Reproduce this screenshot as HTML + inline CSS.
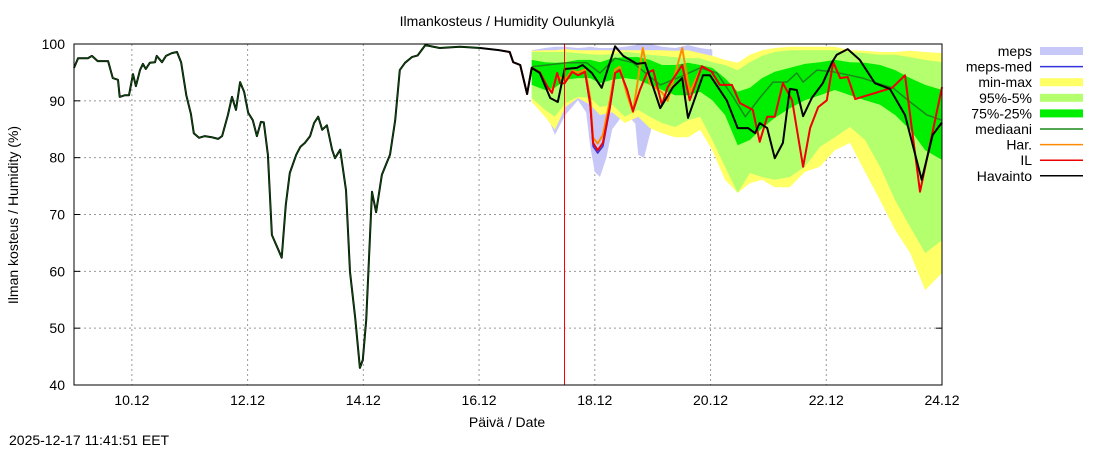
<!DOCTYPE html>
<html><head><meta charset="utf-8">
<style>
body{margin:0;background:#fff;width:1100px;height:450px;overflow:hidden;font-family:"Liberation Sans",sans-serif;}
svg text{font-family:"Liberation Sans",sans-serif;font-size:14px;fill:#000;}
</style></head>
<body>
<svg id="chart" width="1100" height="450" xmlns="http://www.w3.org/2000/svg">
<text x="507" y="26" text-anchor="middle">Ilmankosteus / Humidity  Oulunkylä</text>
<text x="507" y="427" text-anchor="middle">Päivä / Date</text>
<text transform="translate(18,215) rotate(-90)" text-anchor="middle">Ilman kosteus / Humidity (%)</text>
<text x="9" y="445">2025-12-17 11:41:51 EET</text>
<g id="plot"></g>
<g id="legend"></g>
</svg>
<script>
const obsT=[9.00,9.07,9.24,9.31,9.41,9.59,9.67,9.76,9.79,9.88,9.95,10.02,10.07,10.14,10.19,10.24,10.31,10.40,10.43,10.52,10.59,10.69,10.78,10.85,10.94,11.02,11.07,11.16,11.26,11.38,11.49,11.56,11.66,11.73,11.80,11.87,11.94,12.01,12.09,12.16,12.23,12.28,12.35,12.42,12.53,12.59,12.66,12.73,12.84,12.91,12.99,13.08,13.15,13.22,13.29,13.37,13.46,13.51,13.60,13.70,13.77,13.86,13.94,13.99,14.05,14.15,14.22,14.32,14.46,14.55,14.63,14.72,14.84,14.94,15.07,15.32,15.67,16.02,16.36,16.53,16.59,16.71,16.83,16.91,17.05,17.23,17.36,17.48,17.69,17.79,17.95,18.12,18.35,18.49,18.73,18.87,19.13,19.35,19.51,19.61,19.87,19.99,20.28,20.47,20.65,20.77,20.85,20.98,21.11,21.25,21.37,21.49,21.60,21.75,21.94,22.10,22.18,22.37,22.58,22.84,23.10,23.36,23.65,23.84,24.00];
const obsV=[95.8,97.5,97.5,97.9,97.0,97.0,94.0,93.7,90.7,91.0,91.0,94.7,92.6,95.4,96.5,95.6,96.7,96.8,97.9,96.8,97.9,98.4,98.6,96.8,91.0,87.7,84.3,83.5,83.8,83.6,83.3,83.8,87.5,90.7,88.4,93.3,91.6,87.9,86.6,83.8,86.3,86.2,80.5,66.4,63.8,62.4,71.7,77.3,80.5,81.9,82.6,83.8,86.1,87.2,84.9,85.7,81.4,79.9,81.4,74.3,59.9,51.8,43.0,44.4,51.4,74.0,70.4,77.0,80.5,86.6,95.4,96.7,97.7,98.0,99.8,99.3,99.5,99.3,98.9,98.6,96.8,96.3,91.2,95.8,94.9,90.5,89.8,95.6,95.8,96.3,94.9,92.3,99.6,97.9,96.5,96.7,88.7,92.4,94.0,87.0,94.5,94.5,90.1,85.2,85.2,84.3,86.1,85.2,79.9,82.6,92.1,91.9,87.3,90.5,93.1,96.8,98.1,99.1,97.2,93.1,92.1,87.5,76.1,84.0,86.2];
const bandT=[16.91,17.14,17.31,17.49,17.71,17.92,18.09,18.30,18.52,18.75,18.95,19.16,19.39,19.61,19.82,20.03,20.25,20.47,20.68,20.89,21.11,21.37,21.63,21.89,22.15,22.41,22.67,22.93,23.19,23.45,23.71,24.00];
const maxV=[98.8,98.9,98.9,99.1,98.9,98.9,98.9,98.9,98.9,98.9,98.9,98.9,98.8,98.9,98.4,97.9,97.2,96.7,98.1,98.9,99.3,99.5,99.5,99.5,99.5,98.9,98.8,98.6,98.6,98.8,98.6,98.4];
const minV=[89.8,87.2,84.9,88.9,90.5,89.3,87.5,88.0,86.1,87.2,85.2,84.3,83.6,83.6,84.9,81.3,76.1,73.8,75.5,76.1,74.8,74.8,77.5,78.4,81.3,82.6,77.5,72.5,67.3,63.2,56.7,59.7];
const p5V=[90.5,88.4,87.2,89.6,90.7,90.5,88.9,89.3,87.2,88.4,87.2,86.1,85.4,86.6,87.2,83.1,78.4,73.8,77.3,76.6,76.1,76.6,78.4,81.9,83.6,85.4,83.1,78.4,72.5,67.8,63.2,65.5];
const p95V=[98.6,98.6,98.6,98.6,98.4,98.2,98.1,98.2,98.6,98.4,98.1,97.9,97.7,97.5,97.5,96.8,96.3,95.4,96.8,97.9,98.6,98.9,98.9,98.9,98.9,98.6,98.4,98.1,98.1,97.7,97.2,96.8];
const p75V=[97.2,96.8,96.7,96.8,97.2,97.2,96.8,97.5,97.7,97.7,97.2,96.3,96.3,96.7,96.3,95.8,94.0,91.6,92.3,94.0,95.1,95.8,96.5,96.8,97.2,96.8,96.7,96.3,95.4,94.0,92.8,91.9];
const p25V=[92.8,91.9,92.3,93.7,94.0,94.0,93.1,93.7,94.0,93.7,92.8,91.9,91.0,91.0,91.6,90.1,87.5,82.2,83.1,85.2,87.0,88.7,90.1,91.0,91.9,91.0,90.1,89.3,87.5,84.9,81.3,79.6];
const mepsT=[16.91,17.14,17.31,17.49,17.71,17.85,17.92,18.00,18.09,18.20,18.30,18.52,18.70,18.75,18.85,18.95,19.05,19.16,19.39,19.61,19.82,20.03];
const mepsMax=[98.9,99.3,99.5,99.5,99.3,99.4,99.5,99.4,99.3,99.3,99.3,99.5,99.8,100,100,100,99.8,99.5,99.3,99.8,99.3,99.0];
const mepsMin=[90.1,88.4,84.0,87.5,90.1,88.0,82.0,77.5,76.6,80.0,85.0,88.0,86.0,80.5,80.0,84.0,88.0,89.0,90.1,90.5,90.1,90.1];
const medT=[16.91,17.52,17.86,18.09,18.35,18.66,19.13,19.47,19.82,20.11,20.39,20.60,20.85,21.08,21.32,21.49,21.60,21.84,22.12,22.41,22.63,22.88,23.15,23.45,23.74,24.00];
const medV=[96.0,96.7,96.7,94.9,97.5,96.7,92.8,94.2,95.8,94.9,90.7,87.2,90.5,93.3,93.3,94.9,93.3,95.4,95.1,94.5,94.0,93.1,92.3,89.8,87.5,86.6];
const ilT=[16.36,16.53,16.59,16.71,16.83,16.91,17.05,17.18,17.26,17.35,17.40,17.48,17.61,17.71,17.83,17.92,17.97,18.05,18.14,18.26,18.35,18.43,18.56,18.66,18.78,18.90,19.01,19.16,19.26,19.51,19.64,19.85,20.02,20.16,20.37,20.51,20.73,20.85,20.98,21.11,21.25,21.41,21.60,21.72,21.86,22.01,22.12,22.24,22.37,22.50,23.14,23.36,23.62,24.00];
const ilV=[98.9,98.6,96.8,96.3,91.2,95.8,95.0,92.5,91.4,94.9,93.1,93.1,95.1,94.5,95.1,89.6,82.6,81.3,82.6,88.9,94.9,95.4,91.9,88.2,91.9,94.9,95.4,89.3,92.4,96.3,90.1,96.1,95.1,92.8,92.8,89.6,88.4,82.8,87.2,87.2,93.1,90.1,78.4,85.2,88.9,90.1,96.8,94.0,94.2,90.3,92.3,94.5,74.0,92.4];
const harT=[17.26,17.35,17.48,17.61,17.71,17.83,17.92,17.97,18.05,18.14,18.26,18.35,18.43,18.56,18.66,18.83,18.95,19.16,19.26,19.51,19.64,19.85];
const harV=[92.0,94.5,93.5,95.3,95.0,95.5,90.5,83.5,82.5,84.0,90.0,95.5,96.0,91.0,88.0,99.3,93.0,91.5,90.0,99.3,91.5,96.0];
const mmT=[17.83,17.92,17.97,18.05,18.14,18.26,18.35];
const mmV=[95.0,89.0,82.0,80.8,82.0,88.5,94.5];
const yTicks=[40,50,60,70,80,90,100];
const xTicks=[10,12,14,16,18,20,22,24];
const xTickLabels=["10.12","12.12","14.12","16.12","18.12","20.12","22.12","24.12"];
const nowT=17.46;

const L=74,R=942,T=44,B=385,T0=9,T1=24,V0=40,V1=100;
const X=t=>L+(t-T0)/(T1-T0)*(R-L);
const Y=v=>B-(v-V0)/(V1-V0)*(B-T);
const NS="http://www.w3.org/2000/svg";
const plot=document.getElementById('plot');
function mk(tag,attrs,parent){const e=document.createElementNS(NS,tag);for(const k in attrs)e.setAttribute(k,attrs[k]);(parent||plot).appendChild(e);return e;}
function band(ts,lo,hi,fill,name){
  let d='M'+ts.map((t,i)=>X(t).toFixed(1)+','+Y(hi[i]).toFixed(1)).join('L');
  for(let i=ts.length-1;i>=0;i--)d+='L'+X(ts[i]).toFixed(1)+','+Y(lo[i]).toFixed(1);
  const p=mk('path',{d:d+'Z',fill:fill,stroke:'none'});
  
  
}
function line(ts,vs,color,w,name){
  const p=mk('polyline',{points:ts.map((t,i)=>X(t).toFixed(1)+','+Y(vs[i]).toFixed(1)).join(' '),fill:'none',stroke:color,'stroke-width':w,'stroke-linejoin':'round'});
  
  
}
yTicks.forEach(v=>{
  if(v>V0&&v<V1){const g=mk('line',{x1:L,x2:R,y1:Y(v),y2:Y(v),stroke:'#999','stroke-dasharray':'2,3','stroke-width':1});
  
  }
  const tx=mk('text',{x:L-9,y:Y(v)+5,'text-anchor':'end'});tx.textContent=v;
  
  
  mk('line',{x1:L,x2:L+6,y1:Y(v),y2:Y(v),stroke:'#000'});
  mk('line',{x1:R,x2:R-6,y1:Y(v),y2:Y(v),stroke:'#000'});
});
xTicks.forEach((t,i)=>{
  if(t<T1){const g=mk('line',{x1:X(t),x2:X(t),y1:T,y2:B,stroke:'#999','stroke-dasharray':'2,3','stroke-width':1});
  
  }
  const tx=mk('text',{x:X(t),y:B+20,'text-anchor':'middle'});tx.textContent=xTickLabels[i];
  
  
});
band(mepsT,mepsMin,mepsMax,'#c8c8f8','meps-band');
band(bandT,minV,maxV,'#ffff66','min-max-band');
band(bandT,p5V,p95V,'#b4ff6e','p95-p5-band');
band(bandT,p25V,p75V,'#00ee00','p75-p25-band');
line(medT,medV,'#1a8a1a',1.5,'median-line');
line(harT,harV,'#ff8c00',2,'har-line');
line(mmT,mmV,'#3333dd',1.5,'meps-med-line');
line(ilT,ilV,'#ee0000',2,'il-line');
line(obsT,obsV,'#000',2,'observation-line');
const hi=obsT.filter(t=>t<=16.3).length;
line(obsT.slice(0,hi),obsV.slice(0,hi),'#0b4d0b',1,'history-model-line');
const nx=Math.round(X(nowT))+0.5;
const nl=mk('line',{x1:nx,x2:nx,y1:T,y2:B,stroke:'#ff0000','stroke-width':1,'shape-rendering':'crispEdges'});


const fr=mk('rect',{x:L,y:T,width:R-L,height:B-T,fill:'none',stroke:'#000','stroke-width':1});


const legNames=['meps','meps-med','min-max','95%-5%','75%-25%','mediaani','Har.','IL','Havainto'];
const legTypes=['box','line','box','box','box','line','line','line','line'];
const legColors=['#c8c8f8','#3333dd','#ffff66','#b4ff6e','#00ee00','#1a8a1a','#ff8c00','#ee0000','#000'];
const lg=document.getElementById('legend');
legNames.forEach((n,i)=>{
  const y=51+i*15.6;
  const tx=mk('text',{x:1032,y:y+5,'text-anchor':'end'},lg);tx.textContent=n;
  
  
  let s;
  if(legTypes[i]==='box')s=mk('rect',{x:1040,y:y-4,width:43,height:8,fill:legColors[i]},lg);
  else s=mk('line',{x1:1040,x2:1083,y1:y,y2:y,stroke:legColors[i],'stroke-width':1.5},lg);
  
  
});
</script>
</body></html>
